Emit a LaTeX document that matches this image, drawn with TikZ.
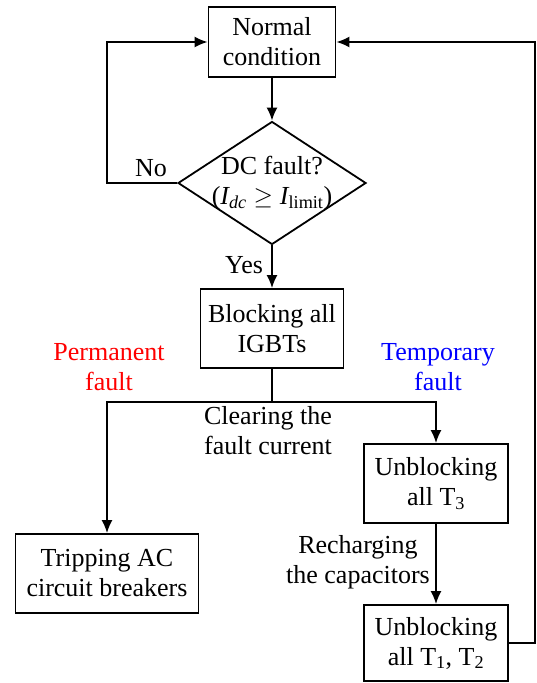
\documentclass[tikz,border=0pt]{standalone}
\usepackage{amsmath}
\usepackage{fontspec}
\setmainfont{Liberation Serif}
\usetikzlibrary{shapes.geometric,arrows.meta,calc}

\tikzset{
    box/.style={draw, line width=1.8pt, rectangle, align=center, inner sep=0pt,
        minimum width=#1, minimum height=79pt},
    decision/.style={draw, line width=1.8pt, diamond, inner sep=0pt,
        minimum width=188pt, minimum height=123pt},
    lbl/.style={align=center},
    arr/.style={line width=1.8pt, -{Latex[length=13pt,width=11pt]}},
    link/.style={line width=1.8pt}
}

\begin{document}
\begin{tikzpicture}[x=1pt, y=-1pt, font=\fontsize{26}{30}\selectfont]
    \useasboundingbox (0,0) rectangle (536,683);

    % Kotak utama
    \node[box=127pt, minimum height=70pt] (normal) at (272,42) {Normal\\condition};
    \node[decision] (fault) at (272,183) {};
    \node[lbl] (faulttext) at (272,183) {DC fault?\\($\textit{I}_{\textit{dc}} \geq \textit{I}_{\text{limit}}$)};
    \node[box=143pt] (blocking) at (272,328.5) {Blocking all\\IGBTs};
    \node[box=183pt] (tripping) at (107,573.5) {Tripping AC\\circuit breakers};
    \node[box=144pt] (unblockA) at (436,483.5) {Unblocking\\all T\textsubscript{3}};
    \node[box=144pt, minimum height=76pt] (unblockB) at (436,643) {Unblocking\\all T\textsubscript{1}, T\textsubscript{2}};

    % Label
    \node[lbl] (no) at (151,168) {No};
    \node[lbl] (yes) at (244,265) {Yes};
    \node[lbl, text=red] (perm) at (109,367) {Permanent\\fault};
    \node[lbl, text=blue] (temp) at (438,367) {Temporary\\fault};
    \node[lbl] (clear) at (268,431) {Clearing the\\fault current};
    \node[lbl] (recharge) at (358,562) {Recharging\\the capacitors};

    % Titik belok
    \coordinate (nobend) at (107,183);
    \coordinate (split) at (272,402);
    \coordinate (retbend) at (535,643);

    % Panah
    \draw[arr] (normal.south) -- (fault.north);
    \draw[arr] (fault.west) -- (nobend) |- (normal.west);
    \draw[arr] (fault.south) -- (blocking.north);
    \draw[link] (blocking.south) -- (split);
    \draw[arr] (split) -| (tripping.north);
    \draw[arr] (split) -| (unblockA.north);
    \draw[arr] (unblockA.south) -- (unblockB.north);
    \draw[arr] (unblockB.east) -- (retbend) |- (normal.east);
\end{tikzpicture}
\end{document}
